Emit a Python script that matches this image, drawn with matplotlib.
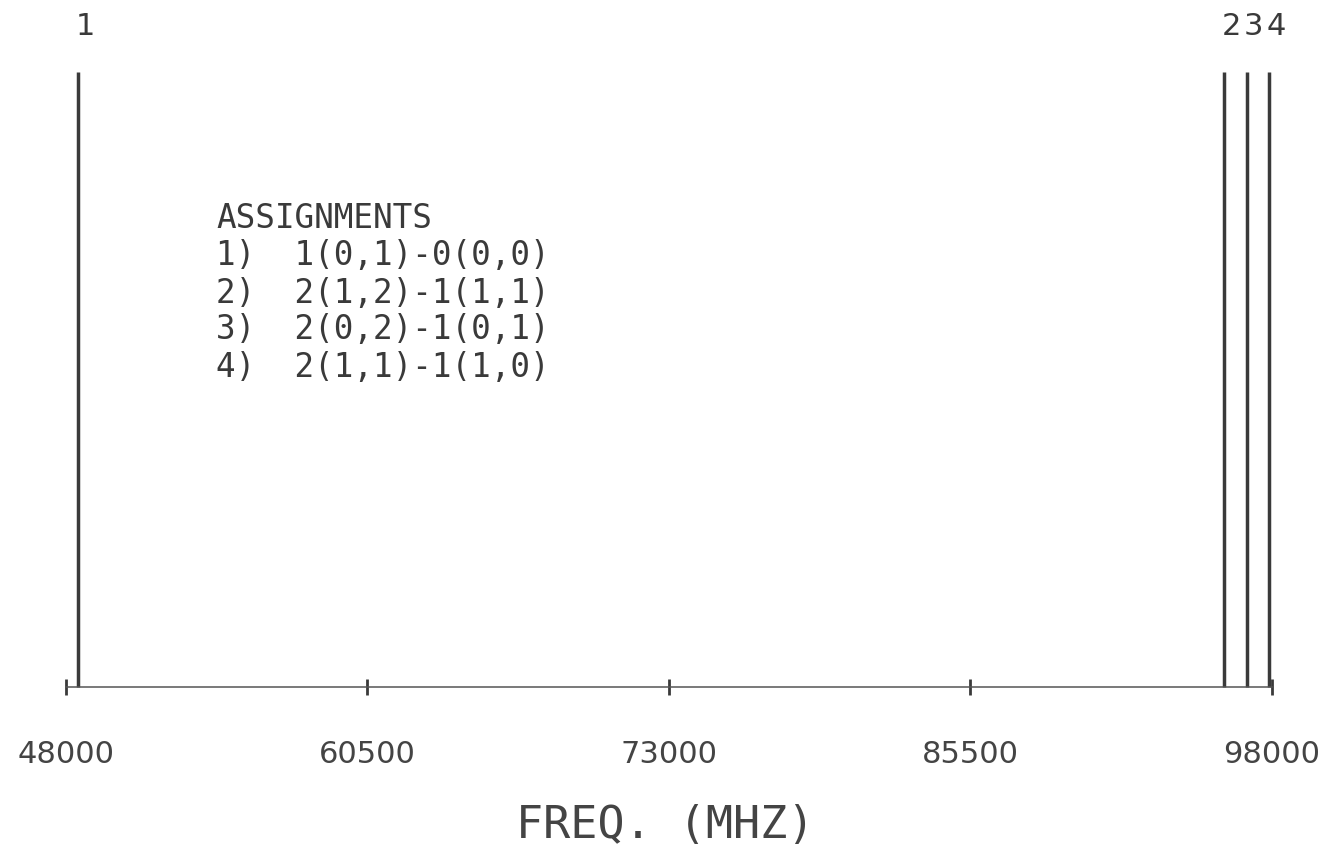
import matplotlib
matplotlib.use('Agg')
import matplotlib.pyplot as plt

# line positions (MHz) and relative heights
freqs = [48500, 96010, 96960, 97880]
heights = [1.0, 1.0, 1.0, 1.0]
peak_labels = ['1', '2', '3', '4']

xticks = [48000, 60500, 73000, 85500, 98000]

title_assign = 'ASSIGNMENTS'
assignments = [
    '1)  1(0,1)-0(0,0)',
    '2)  2(1,2)-1(1,1)',
    '3)  2(0,2)-1(0,1)',
    '4)  2(1,1)-1(1,0)',
]

ink = '#3a3a3a'
W, H = 1331, 857

fig = plt.figure(figsize=(W / 100, H / 100), dpi=100)
ax = fig.add_axes([0, 0, 1, 1])
ax.set_xlim(45264, 100446)
ax.set_ylim(-0.2764, 1.117)

ax.vlines(freqs, 0, heights, color=ink, lw=2.5)
for f, h, lab in zip(freqs, heights, peak_labels):
    ax.annotate(lab, (f, h), xytext=(5, 33), textcoords='offset points',
                ha='center', va='center', fontsize=22, color=ink,
                family='DejaVu Sans')

# baseline with ticks
for s in ['top', 'right', 'left']:
    ax.spines[s].set_visible(False)
ax.spines['bottom'].set_position(('data', 0))
ax.spines['bottom'].set_bounds(48000, 98000)
ax.spines['bottom'].set_color('#555555')
ax.spines['bottom'].set_linewidth(1.1)
ax.set_yticks([])
ax.set_xticks(xticks)
ax.set_xticklabels([str(t) for t in xticks])
ax.tick_params(axis='x', direction='inout', length=12, width=2.0, color=ink,
               pad=32, labelsize=22, labelcolor='#444444')

fig.text(665 / W, 1 - 826 / H, 'FREQ. (MHZ)', ha='center', va='center',
         fontsize=32.5, family='DejaVu Sans Mono', color='#444444')

rows = [title_assign] + assignments
for i, r in enumerate(rows):
    fig.text(216 / W, 1 - (219 + i * 37) / H, r, ha='left', va='center',
             fontsize=23.5, family='DejaVu Sans Mono', color=ink)

fig.savefig('out.png', dpi=100, facecolor='white')
